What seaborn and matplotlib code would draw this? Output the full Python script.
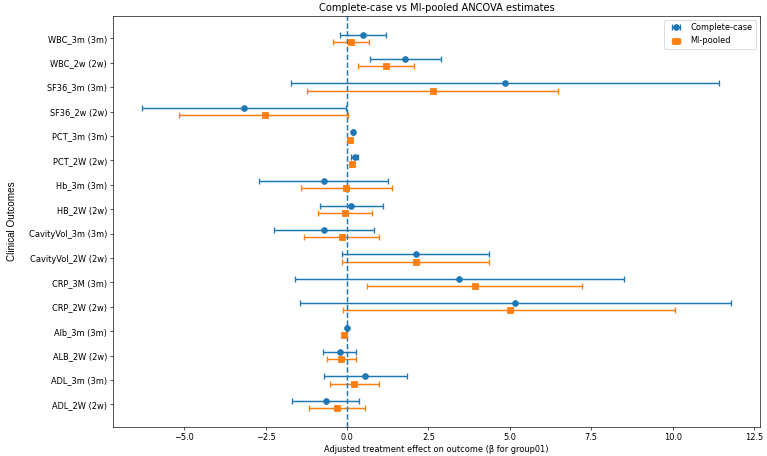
import numpy as np
import pandas as pd
import matplotlib
matplotlib.use("Agg")
import matplotlib.pyplot as plt
import seaborn as sns

outcomes = ["WBC_3m (3m)", "WBC_2w (2w)", "SF36_3m (3m)", "SF36_2w (2w)",
            "PCT_3m (3m)", "PCT_2W (2w)", "Hb_3m (3m)", "HB_2W (2w)",
            "CavityVol_3m (3m)", "CavityVol_2W (2w)", "CRP_3M (3m)", "CRP_2W (2w)",
            "Alb_3m (3m)", "ALB_2W (2w)", "ADL_3m (3m)", "ADL_2W (2w)"]

cc_est = [0.49, 1.79, 4.86, -3.17, 0.18, 0.23, -0.72, 0.13,
          -0.72, 2.12, 3.45, 5.17, -0.01, -0.22, 0.56, -0.66]
cc_lo = [-0.22, 0.70, -1.72, -6.29, 0.15, 0.11, -2.69, -0.83,
         -2.25, -0.16, -1.61, -1.45, -0.03, -0.74, -0.70, -1.70]
cc_hi = [1.21, 2.88, 11.43, -0.04, 0.21, 0.35, 1.26, 1.09,
         0.82, 4.36, 8.51, 11.78, 0.01, 0.28, 1.84, 0.36]

mi_est = [0.11, 1.19, 2.63, -2.53, 0.09, 0.15, -0.03, -0.07,
          -0.15, 2.12, 3.92, 4.99, -0.09, -0.19, 0.21, -0.31]
mi_lo = [-0.42, 0.33, -1.22, -5.15, 0.06, 0.10, -1.42, -0.88,
         -1.32, -0.15, 0.60, -0.13, -0.12, -0.62, -0.52, -1.17]
mi_hi = [0.68, 2.06, 6.47, 0.04, 0.12, 0.20, 1.38, 0.78,
         0.98, 4.36, 7.22, 10.08, -0.06, 0.28, 0.98, 0.55]

series_names = ["Complete-case", "MI-pooled"]

df = pd.DataFrame({
    "outcome": outcomes * 2,
    "method": [series_names[0]] * len(outcomes) + [series_names[1]] * len(outcomes),
    "est": cc_est + mi_est,
    "lo": cc_lo + mi_lo,
    "hi": cc_hi + mi_hi,
})

palette = sns.color_palette("tab10")
colors = {series_names[0]: palette[0], series_names[1]: palette[1]}
markers = {series_names[0]: "o", series_names[1]: "s"}
offsets = {series_names[0]: -0.15, series_names[1]: 0.15}

DPI = 59
fig, ax = plt.subplots(figsize=(767 / DPI, 456 / DPI), dpi=DPI)
ypos = np.arange(len(outcomes))
for name in series_names:
    sub = df[df["method"] == name]
    est = sub["est"].to_numpy()
    err = np.vstack([est - sub["lo"].to_numpy(), sub["hi"].to_numpy() - est])
    ax.errorbar(est, ypos + offsets[name], xerr=err, fmt=markers[name],
                color=colors[name], capsize=3.5, label=name, markersize=7,
                elinewidth=1.8, capthick=1.6)

ax.axvline(0, linestyle="--", color=palette[0], linewidth=1.8)
ax.set_yticks(ypos)
ax.set_yticklabels(outcomes)
ax.invert_yaxis()
ax.set_xlabel("Adjusted treatment effect on outcome (β for group01)")
ax.set_ylabel("Clinical Outcomes", fontsize=12, labelpad=14,
              family=["Liberation Sans", "DejaVu Sans"])
ax.set_title("Complete-case vs MI-pooled ANCOVA estimates", fontsize=12)
ax.legend(loc="upper right")
fig.subplots_adjust(left=0.147, right=0.991, top=0.965, bottom=0.064)
fig.savefig("out.png", dpi=DPI)
